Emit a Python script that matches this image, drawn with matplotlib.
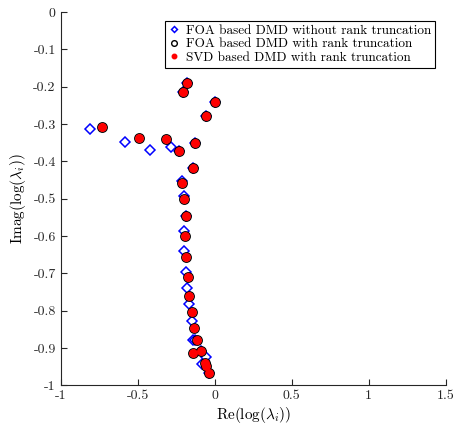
import matplotlib
matplotlib.use('Agg')
import matplotlib.pyplot as plt

# eigenvalue data: Re(log(lambda)), Imag(log(lambda))
re_full = [-0.81, -0.582, -0.42, -0.284, -0.232, -0.128, -0.143, -0.054, 0.0,
           -0.182, -0.204, -0.214, -0.201, -0.188, -0.197, -0.197, -0.186,
           -0.178, -0.165, -0.150, -0.143, -0.125, -0.091, -0.056, -0.080, -0.037]
im_full = [-0.314, -0.349, -0.370, -0.362, -0.372, -0.352, -0.418, -0.279, -0.240,
           -0.191, -0.214, -0.452, -0.493, -0.546, -0.587, -0.639, -0.696,
           -0.740, -0.783, -0.828, -0.879, -0.879, -0.908, -0.925, -0.944, -0.968]

re_trunc = [-0.734, -0.49, -0.316, -0.232, -0.128, -0.143, -0.054, 0.0,
            -0.182, -0.204, -0.210, -0.199, -0.188, -0.192, -0.186, -0.175,
            -0.165, -0.150, -0.134, -0.117, -0.143, -0.091, -0.063, -0.056, -0.037]
im_trunc = [-0.307, -0.338, -0.341, -0.372, -0.352, -0.418, -0.279, -0.240,
            -0.191, -0.214, -0.457, -0.501, -0.546, -0.599, -0.655, -0.711,
            -0.760, -0.804, -0.846, -0.879, -0.914, -0.908, -0.941, -0.948, -0.968]

# svd based results coincide with the FOA truncated ones
re_svd = list(re_trunc)
im_svd = list(im_trunc)

xticks = [-1, -0.5, 0, 0.5, 1, 1.5]
yticks = [0, -0.1, -0.2, -0.3, -0.4, -0.5, -0.6, -0.7, -0.8, -0.9, -1]

plt.rcParams['font.family'] = 'serif'
plt.rcParams['font.serif'] = ['cmr10']
plt.rcParams['mathtext.fontset'] = 'cm'
plt.rcParams['axes.unicode_minus'] = False

fig = plt.figure(figsize=(4.53, 4.30), dpi=100)
ax = fig.add_axes([0.134, 0.104, 0.850, 0.868])

ax.plot(re_full, im_full, 'D', color='b', mfc='none', ms=5, mew=1.1,
        label='FOA based DMD without rank truncation')
ax.plot(re_trunc, im_trunc, 'o', color='k', mfc='none', ms=6.8, mew=1.0,
        label='FOA based DMD with rank truncation')
ax.plot(re_svd, im_svd, 'o', color='r', mec='r', ms=5.4,
        label='SVD based DMD with rank truncation')

ax.set_xlim(-1, 1.5)
ax.set_ylim(-1, 0)
ax.set_xticks(xticks)
ax.set_xticklabels(['%g' % t for t in xticks])
ax.set_yticks(yticks)
ax.set_yticklabels(['%g' % t for t in yticks])

# matlab style: box off, ticks inside
for s in ['top', 'right']:
    ax.spines[s].set_visible(False)
for s in ['left', 'bottom']:
    ax.spines[s].set_color('#262626')
    ax.spines[s].set_linewidth(0.8)
ax.tick_params(direction='in', length=4, width=0.8, labelsize=10,
               colors='#262626')

ax.set_xlabel(r'$\mathrm{Re}(\log(\lambda_i))$', fontsize=11, labelpad=2)
ax.set_ylabel(r'$\mathrm{Imag}(\log(\lambda_i))$', fontsize=11, labelpad=4)

leg = ax.legend(loc='upper right', fontsize=9.5, markerscale=0.6,
                handlelength=0.8, handletextpad=0.5, borderpad=0.3,
                labelspacing=0.1, fancybox=False, framealpha=1,
                bbox_to_anchor=(0.99, 0.995))
leg.get_frame().set_edgecolor('k')
leg.get_frame().set_linewidth(0.8)

fig.savefig('out.png', dpi=100)
